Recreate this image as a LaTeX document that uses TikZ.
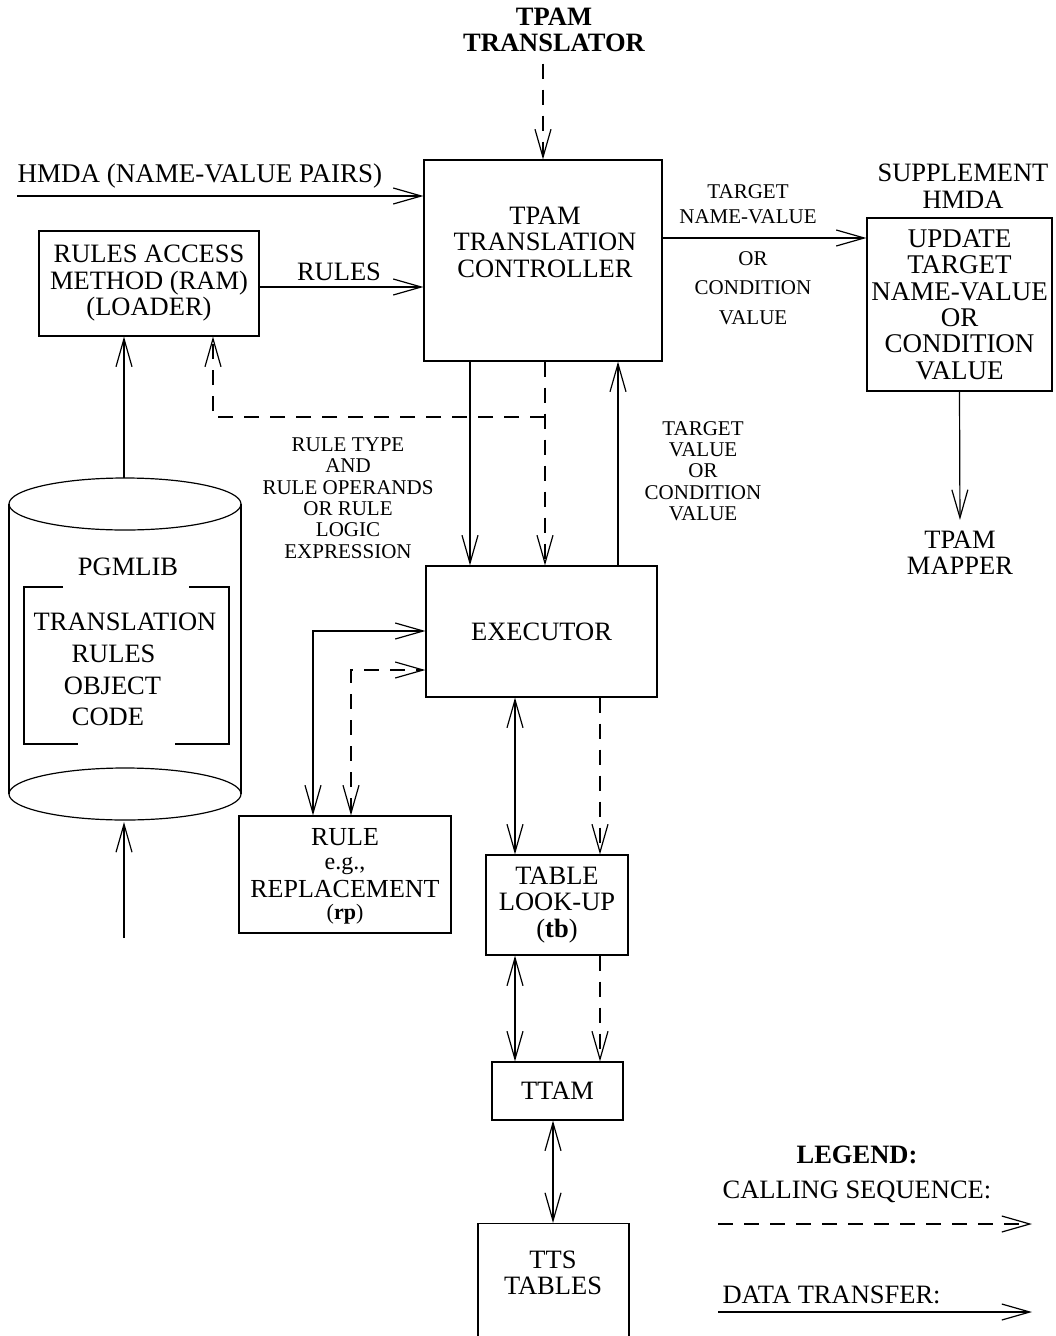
\documentclass[tikz,border=0pt]{standalone}
\usepackage{fontspec}
\setmainfont{Liberation Serif}
\usetikzlibrary{arrows.meta}
\newcommand\fbig{\fontsize{26.5}{26.5}\selectfont}
\newcommand\fhuge{\fontsize{27}{26.4}\selectfont}
\newcommand\fsmall{\fontsize{21}{21.4}\selectfont}
\begin{document}
\begin{tikzpicture}[x=1pt,y=-1pt,
  line width=1.2pt,
  >={Straight Barb[length=28pt,width=16pt]},
  box/.style={draw, inner sep=0pt, align=center, font=\fbig},
  txt/.style={inner sep=0pt, align=center, font=\fbig},
  lbl/.style={inner sep=0pt, align=center, font=\fsmall},
  calls/.style={dash pattern=on 15pt off 11pt}]
\useasboundingbox (0,0) rectangle (1055,1336);

% --- nodes ---
\node[txt,font=\fbig\bfseries] (trans) at (554,30) {TPAM\\TRANSLATOR};
\node[box,minimum width=238pt,minimum height=201pt] (ctrl) at (543,260.5) {};
\node[txt] (ctrltext) at (545,242) {TPAM\\TRANSLATION\\CONTROLLER};
\node[txt,font=\fhuge,anchor=base west] (hmda) at (17,182) {HMDA (NAME-VALUE PAIRS)};
\node[box,minimum width=220pt,minimum height=105pt] (ram) at (149,283.5) {RULES ACCESS\\METHOD (RAM)\\(LOADER)};
\node[txt,anchor=base] (rules) at (339,280) {RULES};
\node[lbl,font=\fontsize{21}{25}\selectfont] (tnv) at (748,204) {TARGET\\NAME-VALUE};
\node[lbl,font=\fontsize{21}{29.5}\selectfont] (orcv) at (753,288) {OR\\CONDITION\\VALUE};
\node[txt] (supp) at (963,186) {SUPPLEMENT\\HMDA};
\node[box,font=\fhuge,minimum width=185pt,minimum height=173pt] (upd) at (959.5,304.5) {UPDATE\\TARGET\\NAME-VALUE\\OR\\CONDITION\\VALUE};
\node[txt] (mapper) at (960,552.5) {TPAM\\MAPPER};
\node[lbl] (rtype) at (348,498) {RULE TYPE\\AND\\RULE OPERANDS\\OR RULE\\LOGIC\\EXPRESSION};
\node[lbl] (tval) at (703,471) {TARGET\\VALUE\\OR\\CONDITION\\VALUE};
\node[box,minimum width=231pt,minimum height=131pt] (exec) at (541.5,631.5) {EXECUTOR};
\node[draw,minimum width=212pt,minimum height=117pt] (rule) at (345,874.5) {};
\node[txt,font=\fontsize{26}{26.5}\selectfont] (ruletext) at (345,876)
  {RULE\\[-2.5pt]{\fontsize{24}{24}\selectfont e.g.,}\\[1.5pt]REPLACEMENT\\[-4.5pt]{\fontsize{22}{22}\selectfont(\textbf{rp})}};
\node[box,minimum width=142pt,minimum height=100pt] (table) at (557,905) {TABLE\\LOOK-UP\\(\textbf{tb})};
\node[box,minimum width=131pt,minimum height=58pt] (ttam) at (557.5,1091) {TTAM};
\node[box,minimum width=151pt,minimum height=125pt,anchor=north] (tts) at (553.5,1223) {};
\node[txt] (ttstext) at (553,1273) {TTS\\TABLES};

% --- cylinder (PGMLIB) ---
\draw (9,504) -- (9,794);
\draw (241,504) -- (241,794);
\draw (125,504) ellipse [x radius=116pt, y radius=26pt];
\draw (125,794) ellipse [x radius=116pt, y radius=26pt];
\node[txt] (pgm) at (128,567) {PGMLIB};
\draw (63,587) -- (24,587) -- (24,744) -- (78,744);
\draw (189,587) -- (229,587) -- (229,744) -- (175,744);
\node[txt,font=\fontsize{26.5}{31.7}\selectfont] (code) at (125,669.5)
  {TRANSLATION\\RULES\hspace{23pt}\mbox{}\\OBJECT\hspace{25pt}\mbox{}\\CODE\hspace{34pt}\mbox{}};

% --- helper coordinates ---
\coordinate (xa) at (470,0);
\coordinate (xb) at (545,0);
\coordinate (xc) at (618,0);
\coordinate (xd) at (213,0);
\coordinate (xf) at (313,0);
\coordinate (xg) at (351,0);
\coordinate (xh) at (515,0);
\coordinate (xi) at (600,0);
\coordinate (xj) at (553,0);
\coordinate (yr) at (0,287);
\coordinate (yt) at (0,238);
\coordinate (yk) at (0,417);
\coordinate (ym) at (0,631);
\coordinate (yn) at (0,670);
\coordinate (hin) at (17,196);
\coordinate (cyltop) at (124,478);
\coordinate (cylbot) at (124,822);
\coordinate (feed) at (124,938);

% --- connectors ---
\draw[calls,->,shorten <=11pt] (trans.south -| ctrl.north) -- (ctrl.north);
\draw[->] (hin) -- (ctrl.west |- hin);
\draw[->] (ram.east |- yr) -- (ctrl.west |- yr);
\draw[->] (ctrl.east |- yt) -- (upd.west |- yt);
\draw[->,shorten >=10pt] (upd.south) -- (mapper.north);
\draw[->] (ctrl.south -| xa) -- (exec.north -| xa);
\draw[calls,->] (ctrl.south -| xb) -- (exec.north -| xb);
\draw[->] (exec.north -| xc) -- (ctrl.south -| xc);
\draw[calls,->] (xb |- yk) -| (ram.south -| xd);
\draw[->] (cyltop) -- (ram.south -| cyltop);
\draw[->] (feed) -- (cylbot);
\draw[<->] (rule.north -| xf) |- (exec.west |- ym);
\draw[calls,<->] (rule.north -| xg) |- (exec.west |- yn);
\draw[<->] (exec.south -| xh) -- (table.north -| xh);
\draw[calls,->] (exec.south -| xi) -- (table.north -| xi);
\draw[<->] (table.south -| xh) -- (ttam.north -| xh);
\draw[calls,->] (table.south -| xi) -- (ttam.north -| xi);
\draw[<->] (ttam.south -| xj) -- (tts.north -| xj);

% --- legend ---
\node[txt,anchor=base,font=\fbig\bfseries] (legend) at (857,1163) {LEGEND:};
\node[txt,anchor=base west] (callseq) at (722,1198) {CALLING SEQUENCE:};
\coordinate (l1a) at (718,1224);
\coordinate (l1b) at (1032,1224);
\draw[calls,->] (l1a) -- (l1b);
\node[txt,anchor=base west] (datatr) at (722,1303) {DATA TRANSFER:};
\coordinate (l2a) at (718,1312);
\coordinate (l2b) at (1032,1312);
\draw[->] (l2a) -- (l2b);
\end{tikzpicture}
\end{document}
